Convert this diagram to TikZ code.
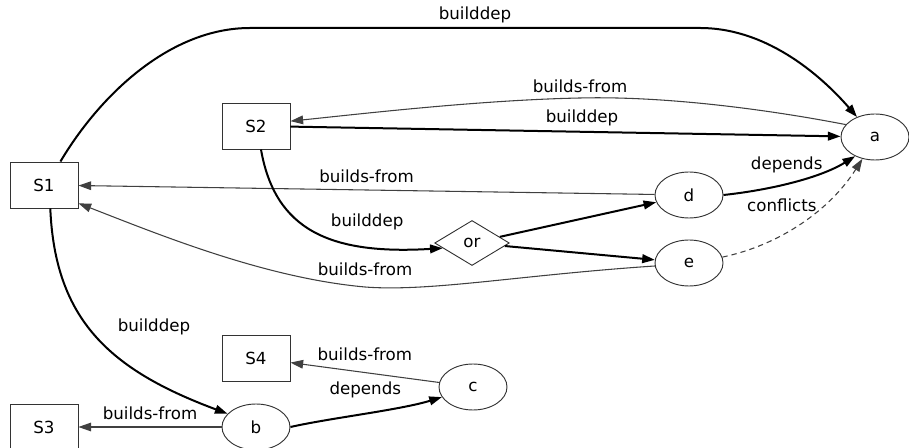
\documentclass[tikz,border=0pt]{standalone}
\usepackage{fontspec}
\setmainfont{DejaVu Sans}
\usetikzlibrary{arrows.meta,shapes.geometric}
\tikzset{
  srcbox/.style={draw=black!80, line width=0.7pt, rectangle, minimum width=51pt, minimum height=34.5pt, inner sep=0pt},
  pkgnode/.style={draw=black!80, line width=0.7pt, ellipse, minimum width=51pt, minimum height=34.5pt, inner sep=0pt}
}

\begin{document}
\begin{tikzpicture}[x=0.75pt, y=-0.75pt, >={Triangle[length=9.5pt,width=6.5pt]},
  every node/.style={font=\fontsize{12.5}{15}\selectfont},
  orgate/.style={draw=black!80, line width=0.7pt, diamond, aspect=1.67, minimum width=56pt, minimum height=33.75pt, inner sep=0pt},
  bdep/.style={->, line width=1.5pt},
  bfrom/.style={->, line width=0.8pt, draw=black!75}]
\useasboundingbox (0,0) rectangle (909,448);
% sources
\node[srcbox] (s1) at (44,185) {S1};
\node[srcbox] (s2) at (256,126) {S2};
\node[srcbox] (s3) at (44,427) {S3};
\node[srcbox] (s4) at (256,358) {S4};
% packages
\node[pkgnode] (pa) at (875,137) {a};
\node[pkgnode] (pb) at (256,427) {b};
\node[pkgnode] (pc) at (473,387) {c};
\node[pkgnode] (pd) at (689,195) {d};
\node[pkgnode] (pe) at (689,263) {e};
\node[orgate] (or) at (472,243) {or};
% relations
\draw[bdep] (s1.55) .. controls (100,95) and (170,28) .. (250,28) -- node[above] {builddep} (700,28) .. controls (770,28) and (825,80) .. (pa.132);
\draw[bfrom] (pa.157) .. controls (760,108) and (660,96) .. (580,98) node[above] {builds-from} .. controls (480,100) and (360,114) .. (s2.8);
\draw[bdep] (s2) -- node[pos=0.53, above] {builddep} (pa);
\draw[bfrom] (pd) -- node[above=2pt] {builds-from} (s1);
\draw[bdep] (pd.east) .. controls (770,190) and (820,178) .. node[pos=0.45, above=4pt] {depends} (pa.224);
\draw[bfrom, dashed, dash pattern=on 4pt off 3pt] (pe.10) .. controls (780,245) and (830,210) .. node[pos=0.5, above, xshift=-15pt, yshift=4.5pt] {conflicts} (pa.240);
\draw[bdep] (s2.282) .. controls (275,230) and (330,255) .. node[pos=0.5, anchor=west, xshift=8pt, yshift=7pt] {builddep} (or.190);
\draw[bdep] (or) -- (pd);
\draw[bdep] (or) -- (pe);
\draw[bfrom] (pe.185) .. controls (520,275) and (430,292) .. (365,287) node[above=5pt] {builds-from} .. controls (265,278) and (160,235) .. (s1.332);
\draw[bdep] (s1.285) .. controls (55,320) and (110,370) .. node[pos=0.45, right=18pt] {builddep} (pb.155);
\draw[bfrom] (pb) -- node[above=2pt] {builds-from} (s3);
\draw[bdep] (pb.east) .. controls (330,418) and (400,410) .. node[midway, above=7.5pt] {depends} (pc.198);
\draw[bfrom] (pc) -- node[above=5pt] {builds-from} (s4);
\end{tikzpicture}
\end{document}
